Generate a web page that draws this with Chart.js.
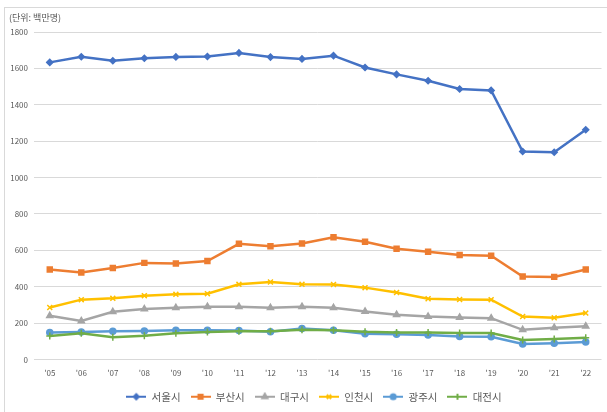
<!DOCTYPE html>
<html>
<head>
<meta charset="utf-8">
<script src="https://cdn.jsdelivr.net/npm/chart.js@4/dist/chart.umd.min.js"></script>
<style>
  html, body { margin: 0; padding: 0; background: #fff; overflow: hidden; width: 607px; height: 412px; }
  #frame { position: absolute; left: 4px; top: 7px; width: 603px; height: 405px; border-left: 1px solid #d9d9d9; border-top: 1px solid #d9d9d9; box-sizing: border-box; }
  #wrap { position: absolute; left: 0; top: 0; width: 607px; height: 412px; }
</style>
</head>
<body>
<div id="frame"></div>
<div id="wrap"><canvas id="grafico"></canvas></div>
<script>
// 연도 (카테고리)
const anos = ["'05", "'06", "'07", "'08", "'09", "'10", "'11", "'12", "'13", "'14", "'15", "'16", "'17", "'18", "'19", "'20", "'21", "'22"];

// 도시별 값 (백만명)
const seoul   = [1633, 1664, 1642, 1656, 1663, 1665, 1685, 1662, 1652, 1670, 1605, 1567, 1532, 1487, 1479, 1143, 1139, 1263];
const busan   = [495, 478, 503, 531, 528, 541, 636, 622, 638, 672, 647, 609, 592, 574, 570, 456, 454, 495];
const daegu   = [240, 212, 262, 277, 284, 290, 290, 284, 290, 284, 264, 246, 236, 231, 227, 163, 175, 183];
const incheon = [286, 329, 336, 351, 358, 362, 413, 426, 413, 412, 395, 368, 334, 330, 329, 236, 229, 255];
const gwangju = [149, 151, 155, 157, 161, 161, 159, 153, 171, 161, 142, 139, 135, 127, 125, 85, 89, 96];
const daejeon = [129, 144, 122, 131, 144, 151, 155, 155, 163, 161, 153, 149, 148, 146, 146, 107, 113, 120];

const yTicks = [0, 200, 400, 600, 800, 1000, 1200, 1400, 1600, 1800];

const series = [
  { label: '서울시', data: seoul,   color: '#4472C4', style: 'rectRot',  r: 3 },
  { label: '부산시', data: busan,   color: '#ED7D31', style: 'rect',     r: 3.5 },
  { label: '대구시', data: daegu,   color: '#A5A5A5', style: 'triangle', r: 3.5 },
  { label: '인천시', data: incheon, color: '#FFC000', style: 'crossRot', r: 3.5 },
  { label: '광주시', data: gwangju, color: '#5B9BD5', style: 'circle',   r: 3 },
  { label: '대전시', data: daejeon, color: '#70AD47', style: 'cross',    r: 3.5 }
];

// 범례용 아이콘: 선 + 마커
function legendIcon(s) {
  const c = document.createElement('canvas');
  c.width = 20; c.height = 10;
  const g = c.getContext('2d');
  g.strokeStyle = s.color;
  g.fillStyle = s.color;
  g.lineWidth = 2;
  g.beginPath(); g.moveTo(0, 5); g.lineTo(20, 5); g.stroke();
  Chart.helpers.drawPoint(g, { pointStyle: s.style, radius: s.r * 0.85, borderWidth: 1.5 }, 10, 5);
  return c;
}

const tituloPlugin = {
  id: 'titulo',
  afterLayout(chart) {
    // 범례를 플롯 영역 중앙 쪽으로 조금 이동
    chart.legend.left += 22;
  },
  afterDraw(chart) {
    const ctx = chart.ctx;
    ctx.save();
    ctx.font = '9px "Noto Sans CJK KR"';
    ctx.fillStyle = '#595959';
    ctx.textBaseline = 'middle';
    ctx.fillText('(단위: 백만명)', 9, 18);
    ctx.restore();
  }
};

const ctx = document.getElementById('grafico').getContext('2d');
new Chart(ctx, {
  type: 'line',
  data: {
    labels: anos,
    datasets: series.map((s, i) => ({
      label: s.label,
      data: s.data,
      borderColor: s.color,
      backgroundColor: s.color,
      borderWidth: 2.5,
      pointStyle: s.style,
      pointRadius: s.r,
      pointBorderWidth: 1.5,
      tension: 0,
      order: series.length - i
    }))
  },
  options: {
    responsive: true,
    maintainAspectRatio: false,
    animation: false,
    layout: { padding: { top: 32, right: 1, left: 0, bottom: 0 } },
    scales: {
      x: {
        offset: true,
        grid: { display: false, drawTicks: false },
        border: { display: false },
        ticks: { color: '#595959', font: { size: 8, family: '"Noto Sans CJK KR"' }, padding: 9, maxRotation: 0, autoSkip: false },
        afterFit(scale) { scale.height = 22; }
      },
      y: {
        min: 0,
        max: 1800,
        afterBuildTicks(scale) { scale.ticks = yTicks.map(v => ({ value: v })); },
        grid: { color: '#d9d9d9', lineWidth: 1, drawTicks: false },
        border: { display: false },
        ticks: { color: '#595959', font: { size: 8, family: '"Noto Sans CJK KR"' }, padding: 6, callback: v => String(v) },
        afterFit(scale) { scale.width = 34; }
      }
    },
    plugins: {
      legend: {
        position: 'bottom',
        labels: {
          usePointStyle: true,
          pointStyleWidth: 20,
          color: '#595959',
          font: { size: 10.5, family: '"Noto Sans CJK KR"' },
          padding: 10,
          generateLabels(chart) {
            return series.map((s, i) => ({
              text: s.label,
              pointStyle: legendIcon(s),
              fillStyle: s.color,
              strokeStyle: s.color,
              fontColor: '#595959',
              lineWidth: 0,
              hidden: false,
              datasetIndex: i
            }));
          }
        }
      },
      tooltip: { enabled: false }
    }
  },
  plugins: [tituloPlugin]
});
</script>
</body>
</html>
